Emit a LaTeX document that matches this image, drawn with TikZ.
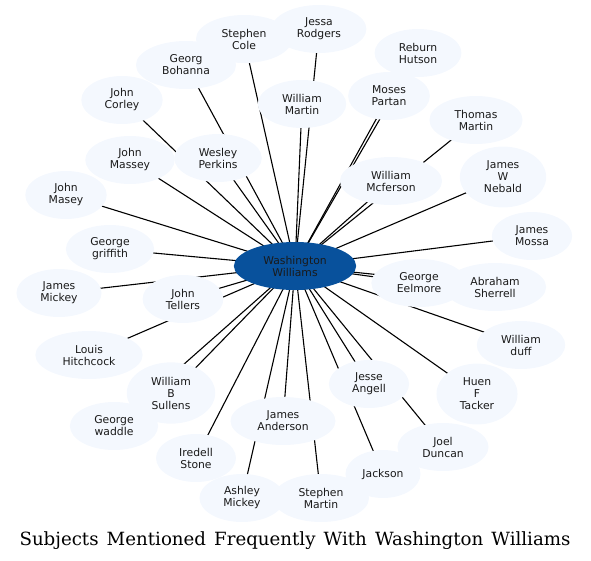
\documentclass[tikz,border=0pt]{standalone}
\usepackage{fontspec}
\setsansfont{DejaVu Sans}
\newfontfamily\titlefont[WordSpace=1.4]{DejaVu Serif}
\usepackage{tikz}
\usetikzlibrary{shapes.geometric, backgrounds}
\definecolor{hubblue}{HTML}{08519C}
\definecolor{leafblue}{HTML}{F4F8FE}
\definecolor{labelink}{HTML}{1A1A1A}

\begin{document}
\begin{tikzpicture}[x=1pt, y=-1pt,
      person/.style={
                  ellipse, fill=leafblue, inner xsep=11.5pt, inner ysep=5.5pt,
                  minimum height=48pt, align=center, text=labelink,
                  font=\sffamily\fontsize{10.8}{12}\selectfont
            },
      hub/.style={person, fill=hubblue},
      link/.style={line width=1.1pt},
]
\useasboundingbox (0,0) rectangle (591,560);

% Centre
\node[hub] (washington) at (295,266) {Washington\\Williams};

% Upper half
\node[person] (stephencole)   at (244,39)  {Stephen\\Cole};
\node[person] (jessa)         at (319,29)  {Jessa\\Rodgers};
\node[person] (bohanna)       at (186,65)  {Georg\\Bohanna};
\node[person] (reburn)        at (418,53)  {Reburn\\Hutson};
\node[person] (corley)        at (122,100) {John\\Corley};
\node[person] (williammartin) at (302,104) {William\\Martin};
\node[person] (moses)         at (389,96)  {Moses\\Partan};
\node[person] (thomasmartin)  at (476,120) {Thomas\\Martin};
\node[person] (wesley)        at (218,158) {Wesley\\Perkins};
\node[person] (johnmassey)    at (130,160) {John\\Massey};
\node[person] (mcferson)      at (391,181) {William\\Mcferson};
\node[person] (nebald)        at (503,177) {James\\W\\Nebald};
\node[person] (johnmasey)     at (66,195)  {John\\Masey};
\node[person] (mossa)         at (532,236) {James\\Mossa};
\node[person] (griffith)      at (110,249) {George\\griffith};

% Lower half
\node[person] (eelmore)       at (419,283) {George\\Eelmore};
\node[person] (sherrell)      at (495,287) {Abraham\\Sherrell};
\node[person] (jamesmickey)   at (59,293)  {James\\Mickey};
\node[person] (tellers)       at (183,299) {John\\Tellers};
\node[person] (duff)          at (521,345) {William\\duff};
\node[person] (hitchcock)     at (89,355)  {Louis\\Hitchcock};
\node[person] (sullens)       at (171,393) {William\\B\\Sullens};
\node[person] (angell)        at (369,384) {Jesse\\Angell};
\node[person] (tacker)        at (477,394) {Huen\\F\\Tacker};
\node[person] (waddle)        at (114,426) {George\\waddle};
\node[person] (anderson)      at (283,421) {James\\Anderson};
\node[person] (duncan)        at (443,447) {Joel\\Duncan};
\node[person] (iredell)       at (196,458) {Iredell\\Stone};
\node[person, inner xsep=6pt] (jackson) at (383,474) {Jackson};
\node[person] (ashley)        at (242,498) {Ashley\\Mickey};
\node[person] (stephenmartin) at (321,498) {Stephen\\Martin};

% Links, behind every ellipse
\begin{scope}[on background layer]
\foreach \who in {stephencole, jessa, bohanna, reburn, corley, williammartin,
                  moses, thomasmartin, wesley, johnmassey, mcferson, nebald,
                  johnmasey, mossa, griffith, eelmore, sherrell, jamesmickey,
                  tellers, duff, hitchcock, sullens, angell, tacker, waddle,
                  anderson, duncan, iredell, jackson, ashley, stephenmartin}
      \draw[link] (washington.center) -- (\who.center);
\end{scope}

% Title
\node[anchor=base, font=\titlefont\fontsize{18.2}{20}\selectfont] (title) at (295,545)
      {Subjects Mentioned Frequently With Washington Williams};
\end{tikzpicture}
\end{document}
